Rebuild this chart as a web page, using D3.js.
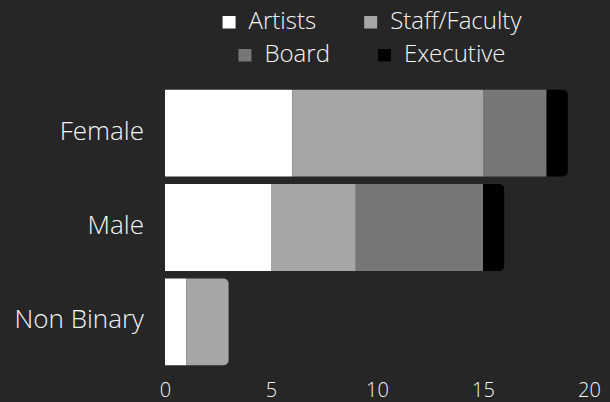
<!DOCTYPE html>
<html>
<head>
<meta charset="utf-8">
<script src="https://cdn.jsdelivr.net/npm/d3@7"></script>
<style>
  html, body { margin: 0; padding: 0; background: #262626; }
  svg { display: block; }
  text { font-family: "Open Sans", Lato, sans-serif; font-weight: 300; fill: #f4f4f4; }
</style>
</head>
<body>
<svg width="610" height="402"></svg>
<script>
// data
const categories = ["Female", "Male", "Non Binary"];
const seriesNames = ["Artists", "Staff/Faculty", "Board", "Executive"];
const artists = [6, 5, 1];
const staffFaculty = [9, 4, 2];
const board = [3, 6, 0];
const executive = [1, 1, 0];
const xTicks = [0, 5, 10, 15, 20];

const colors = ["#ffffff", "#a6a6a6", "#777777", "#000000"];

const svg = d3.select("svg");

const rows = categories.map(function (c, i) {
  return { cat: c, Artists: artists[i], "Staff/Faculty": staffFaculty[i], Board: board[i], Executive: executive[i] };
});
const stacked = d3.stack().keys(seriesNames)(rows);

const x = d3.scaleLinear().domain([0, 20]).range([165, 589]);
const y = d3.scaleBand().domain(categories).range([86, 369]).paddingInner(0.08).paddingOuter(0.04);

// last non-empty segment per row gets the rounded end
const lastKey = rows.map(function (r) {
  let k = null;
  seriesNames.forEach(function (s) { if (r[s] > 0) k = s; });
  return k;
});

function segPath(x0, x1, y0, h, round) {
  const r = round ? Math.min(5, (x1 - x0)) : 0;
  return "M" + x0 + "," + y0 +
    "H" + (x1 - r) +
    (r ? "A" + r + "," + r + " 0 0 1 " + x1 + "," + (y0 + r) : "") +
    "V" + (y0 + h - r) +
    (r ? "A" + r + "," + r + " 0 0 1 " + (x1 - r) + "," + (y0 + h) : "") +
    "H" + x0 + "Z";
}

svg.append("g")
  .selectAll("g")
  .data(stacked)
  .join("g")
  .attr("fill", function (d, i) { return colors[i]; })
  .selectAll("path")
  .data(function (d) { return d.map(function (v, i) { return { v: v, i: i, key: d.key }; }); })
  .join("path")
  .filter(function (d) { return d.v[1] > d.v[0]; })
  .attr("d", function (d) {
    return segPath(x(d.v[0]), x(d.v[1]), y(categories[d.i]), y.bandwidth(), lastKey[d.i] === d.key);
  });

// category labels
svg.append("g")
  .selectAll("text")
  .data(categories)
  .join("text")
  .attr("x", 144)
  .attr("y", function (d) { return y(d) + y.bandwidth() / 2 + 6.5; })
  .attr("text-anchor", "end")
  .style("font-size", "26px")
  .text(function (d) { return d; });

// x axis
const xAxis = svg.append("g")
  .call(d3.axisBottom(x).tickValues(xTicks).tickSize(0).tickPadding(0));
xAxis.select(".domain").remove();
xAxis.attr("font-family", null).attr("font-size", null);
xAxis.selectAll("text")
  .style("font-size", "20px")
  .attr("fill", "#f4f4f4")
  .attr("y", 397)
  .attr("dy", null);

// legend, two centred rows
const legendRows = [[0, 1], [2, 3]];
const legendBase = [28.5, 61.5];
const legendCenter = 372;
legendRows.forEach(function (idx, r) {
  const g = svg.append("g");
  let cx = 0;
  idx.forEach(function (si, k) {
    const item = g.append("g").attr("transform", "translate(" + cx + ",0)");
    item.append("rect")
      .attr("x", 0).attr("y", -12.5)
      .attr("width", 13).attr("height", 12.5)
      .attr("fill", colors[si]);
    const t = item.append("text")
      .attr("x", 26)
      .style("font-size", "24px")
      .text(seriesNames[si]);
    cx += 26 + t.node().getComputedTextLength() + (k < idx.length - 1 ? 48 : 0);
  });
  g.attr("transform", "translate(" + (legendCenter - cx / 2) + "," + legendBase[r] + ")");
});
</script>
</body>
</html>
